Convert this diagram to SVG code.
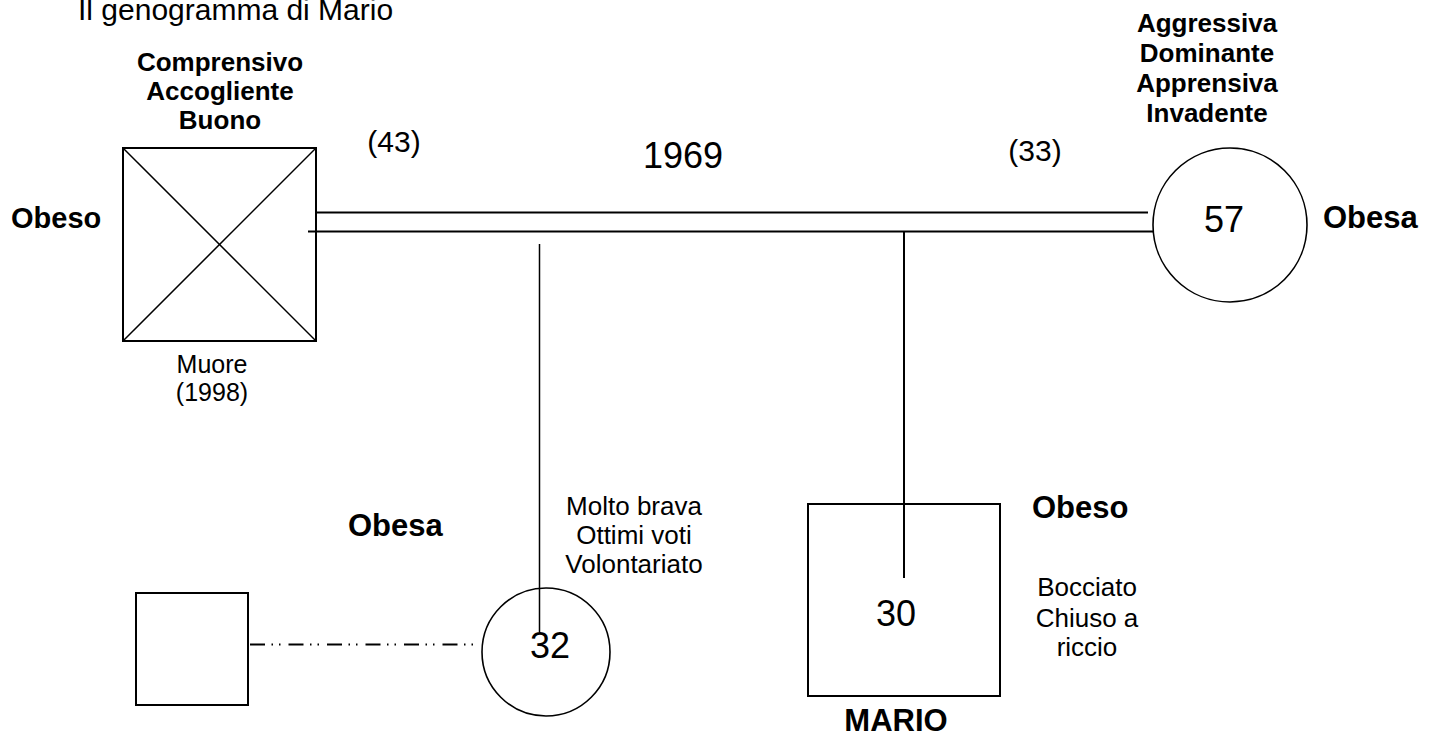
<svg xmlns="http://www.w3.org/2000/svg" width="1437" height="737" viewBox="0 0 1437 737">
<style>
  .t { font-family: "Liberation Sans", Arial, sans-serif; fill: #000; }
  .b { font-weight: bold; }
  .shape { fill: #fff; stroke: #000; stroke-width: 2; }
  .thin { stroke: #000; stroke-width: 1.5; fill: none; }
  .ln { stroke: #000; stroke-width: 2; fill: none; }
</style>
<rect x="0" y="0" width="1437" height="737" fill="#fff"/>
<text class="t" x="78" y="20" font-size="30">Il genogramma di Mario</text>

<g id="connectors">
  <line class="ln" x1="316" y1="212.5" x2="1148" y2="212.5"/>
  <line class="ln" x1="308" y1="231.5" x2="1153" y2="231.5"/>
  <line class="thin" x1="539.5" y1="244" x2="539.5" y2="632"/>
  <line class="ln" x1="904" y1="232" x2="904" y2="578"/>
  <line class="ln" x1="250" y1="644.5" x2="474" y2="644.5" stroke-dasharray="15 6.5 1.5 6 1.5 8"/>
</g>

<g id="father">
  <rect class="shape" x="123" y="148" width="193" height="193" style="fill:none"/>
  <line class="thin" x1="123" y1="148" x2="316" y2="341"/>
  <line class="thin" x1="316" y1="148" x2="123" y2="341"/>
  <text class="t b" x="220" y="71" font-size="26" text-anchor="middle">Comprensivo</text>
  <text class="t b" x="220" y="100" font-size="26" text-anchor="middle">Accogliente</text>
  <text class="t b" x="220" y="129" font-size="26" text-anchor="middle">Buono</text>
  <text class="t b" x="11" y="228" font-size="29">Obeso</text>
  <text class="t" x="212" y="373" font-size="25" text-anchor="middle">Muore</text>
  <text class="t" x="212" y="401" font-size="25" text-anchor="middle">(1998)</text>
  <text class="t" x="394" y="152" font-size="30" text-anchor="middle">(43)</text>
</g>

<g id="marriage">
  <text class="t" x="683" y="168" font-size="36" text-anchor="middle">1969</text>
</g>

<g id="mother">
  <circle class="shape" cx="1230" cy="225" r="77" style="stroke-width:1.6"/>
  <text class="t" x="1224" y="232" font-size="36" text-anchor="middle">57</text>
  <text class="t b" x="1207" y="32" font-size="26" text-anchor="middle">Aggressiva</text>
  <text class="t b" x="1207" y="62" font-size="26" text-anchor="middle">Dominante</text>
  <text class="t b" x="1207" y="92" font-size="26" text-anchor="middle">Apprensiva</text>
  <text class="t b" x="1207" y="122" font-size="26" text-anchor="middle">Invadente</text>
  <text class="t b" x="1323" y="228" font-size="31">Obesa</text>
  <text class="t" x="1035" y="161" font-size="30" text-anchor="middle">(33)</text>
</g>

<g id="daughter">
  <circle class="shape" cx="546" cy="652" r="64" style="stroke-width:1.6;fill:none"/>
  <text class="t" x="550" y="658" font-size="36" text-anchor="middle">32</text>
  <text class="t b" x="348" y="536" font-size="31">Obesa</text>
  <text class="t" x="634" y="515" font-size="26" text-anchor="middle">Molto brava</text>
  <text class="t" x="634" y="544" font-size="26" text-anchor="middle">Ottimi voti</text>
  <text class="t" x="634" y="573" font-size="26" text-anchor="middle">Volontariato</text>
</g>

<g id="partner">
  <rect class="shape" x="136" y="593" width="112" height="112"/>
</g>

<g id="mario">
  <rect class="shape" x="808" y="504" width="192" height="192" style="fill:none"/>
  <text class="t" x="896" y="626" font-size="36" text-anchor="middle">30</text>
  <text class="t b" x="896" y="731" font-size="31" text-anchor="middle">MARIO</text>
  <text class="t b" x="1032" y="518" font-size="31">Obeso</text>
  <text class="t" x="1087" y="596" font-size="26" text-anchor="middle">Bocciato</text>
  <text class="t" x="1087" y="627" font-size="26" text-anchor="middle">Chiuso a</text>
  <text class="t" x="1087" y="656" font-size="26" text-anchor="middle">riccio</text>
</g>
</svg>
